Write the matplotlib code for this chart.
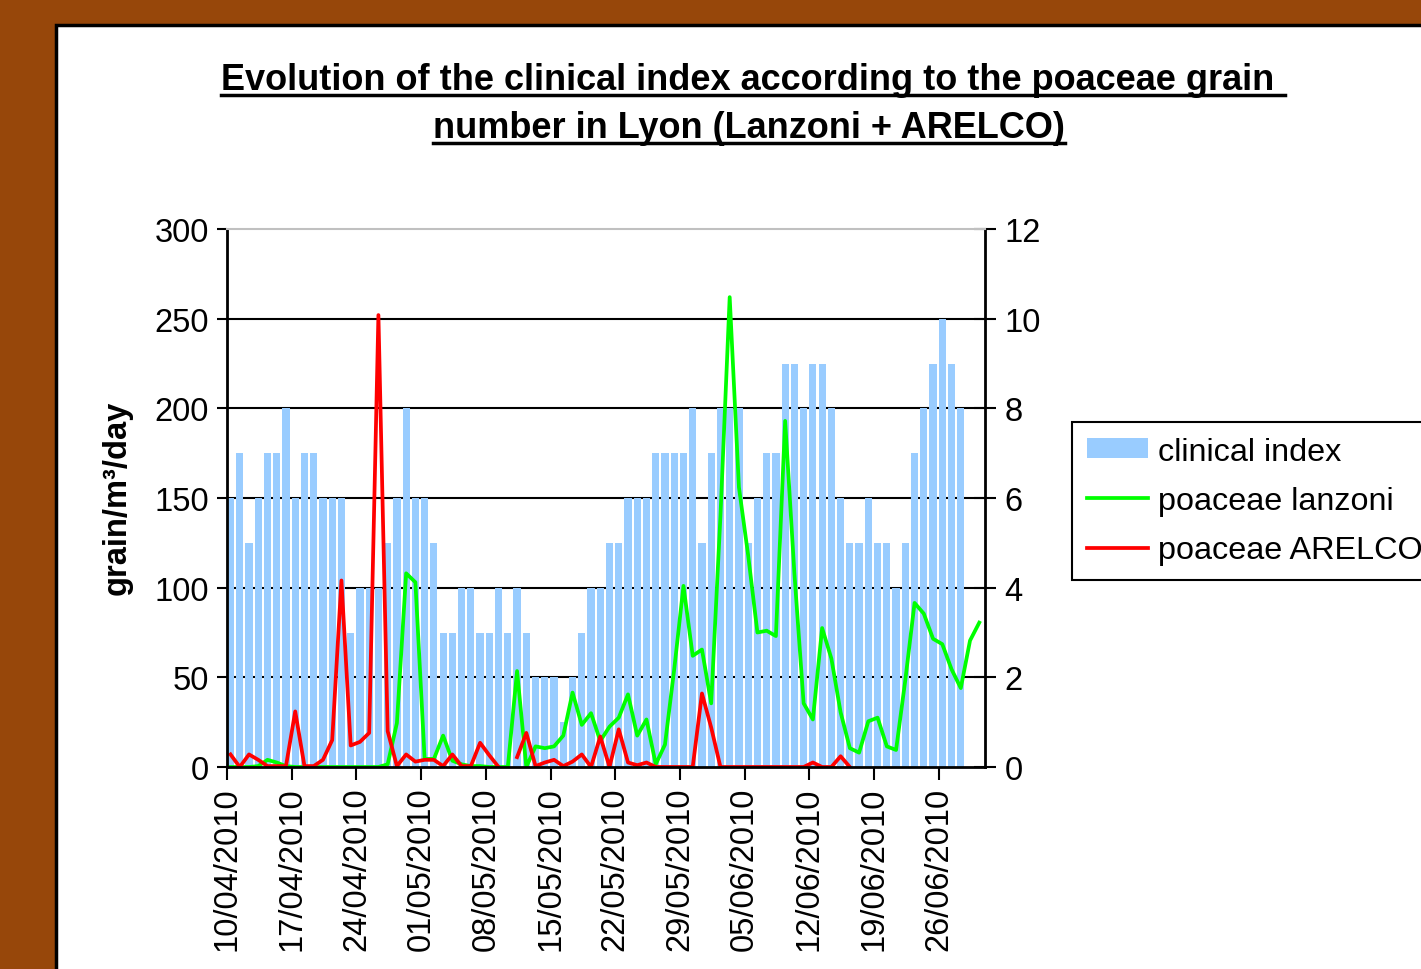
import matplotlib
matplotlib.use('Agg')
import matplotlib.pyplot as plt
import matplotlib.dates as mdates
from matplotlib.patches import Rectangle
from matplotlib.lines import Line2D
import numpy as np
import pandas as pd

plt.rcParams['font.family'] = ['Liberation Sans', 'DejaVu Sans']

# Données (un point par jour à partir du 10/04/2010)
start_date = '2010-04-10'
end_date = '2010-07-01'

clinical_index = [6, 7, 5, 6, 7, 7, 8, 6, 7, 7, 6, 6, 6, 3, 4, 4, 4, 5, 6, 8, 6,
                  6, 5, 3, 3, 4, 4, 3, 3, 4, 3, 4, 3, 2, 2, 2, 1, 2, 3, 4, 4,
                  5, 5, 6, 6, 6, 7, 7, 7, 7, 8, 5, 7, 8, 8, 8, 5, 6, 7, 7,
                  9, 9, 8, 9, 9, 8, 6, 5, 5, 6, 5, 5, 4, 5, 7, 8, 9, 10, 9, 8]

poaceae_lanzoni = [0, 0, 0, 0.5, 4, 2.5, 0.5, 0, 0, 0, 0, 0, 0, 0, 0, 0, 0, 1.5, 24.5, 108, 103,
                   4.5, 4.5, 17.5, 3.5, 1.5, 0.5, 0.5, 0, 0, 0, 53.5, 0, 11.5, 10.5, 11.5, 17.5, 41.5, 23.5, 30, 14.5,
                   22.5, 27.5, 40.5, 17.5, 26.5, 1.5, 12.5, 54.5, 101, 62, 65.5, 35.5, 140, 262, 156, 118, 75, 76, 73,
                   193, 108, 35.5, 26.5, 77.5, 60.5, 30.5, 10.5, 8, 25.5, 27.5, 11.5, 9.5, 48.5, 91.5, 85.5, 71.5,
                   68.5, 54.5, 44, 70.5, 80.5]

nan = np.nan
poaceae_arelco = [7, 0, 7, 4, 0.5, 0.5, 0.5, 31, 0.5, 0.5, 4, 15, 104, 12, 14, 19, 252, 20, 0.5, 7, 3,
                  4, 4, 0.5, 7, 0.5, 0.5, 13.5, 6.5, 0, nan, 5.5, 19, 0.5, 2.5, 4, 0.5, 3, 7, 0, 17,
                  0, 21, 2.5, 1, 2.5, 0, 0, 0, 0, 0, 41, 22, 0, 0, 0, 0, 0, 0, 0,
                  0, 0, 0, 2.5, 0, 0, 6, 0] + [nan] * 14

title_lines = ['Evolution of the clinical index according to the poaceae grain ',
               'number in Lyon (Lanzoni + ARELCO)']

W, H = 1421, 970
fig = plt.figure(figsize=(W / 100, H / 100), dpi=100)
fig.patch.set_facecolor('#97470A')

# panneau blanc
panel = Rectangle((56 / W, -0.1), 1.0, 1.1 - 26 / H, transform=fig.transFigure,
                  facecolor='white', edgecolor='black', linewidth=2.5, zorder=-5)
fig.patches.append(panel)

ax = fig.add_axes([227 / W, 1 - 768 / H, 758 / W, 538 / H])
ax2 = ax.twinx()
ax.set_zorder(ax2.get_zorder() + 1)
ax.patch.set_visible(False)

days = pd.date_range(start_date, periods=len(poaceae_lanzoni))
x = mdates.date2num(days) + 0.38

# barres (axe de droite)
for v in [2, 4, 6, 8, 10]:
    ax2.axhline(v, color='black', linewidth=1.5, zorder=0.5)
bars = ax2.bar(x[:len(clinical_index)], clinical_index, width=0.78,
               color='#99CCFF', zorder=1, label='clinical index')
ax2.set_ylim(0, 12)
ax2.set_yticks(range(0, 13, 2))

# courbes (axe de gauche)
l1, = ax.plot(x, poaceae_lanzoni, color='#00FF00', linewidth=2.7, label='poaceae lanzoni')
l2, = ax.plot(x, poaceae_arelco, color='#FF0000', linewidth=2.7, label='poaceae ARELCO')
ax.set_ylim(0, 300)
ax.set_yticks(range(0, 301, 50))
ax.set_xlim(mdates.date2num(pd.Timestamp(start_date)), mdates.date2num(pd.Timestamp(end_date)))

ticks = pd.date_range(start_date, end_date, freq='7D')
ax.set_xticks(mdates.date2num(ticks))
ax.xaxis.set_major_formatter(mdates.DateFormatter('%d/%m/%Y'))

for a in (ax, ax2):
    for s in a.spines.values():
        s.set_visible(False)
ax.spines['left'].set_visible(True)
ax.spines['left'].set_linewidth(2)
ax.spines['bottom'].set_visible(True)
ax.spines['bottom'].set_linewidth(2)
ax.spines['top'].set_visible(True)
ax.spines['top'].set_color('#C0C0C0')
ax.spines['top'].set_linewidth(1.5)
ax2.spines['right'].set_visible(True)
ax2.spines['right'].set_linewidth(2)

ax.tick_params(axis='y', direction='out', length=7, width=1.5, labelsize=23.5, pad=6)
ax.tick_params(axis='x', direction='out', length=9, width=1.5, labelsize=23.5,
               labelrotation=90, pad=5)
ax2.tick_params(axis='y', direction='inout', length=16, width=1.5, labelsize=23.5, pad=6)

fig.text(117 / W, 1 - 498 / H, 'grain/m³/day', rotation=90, ha='center', va='center',
         fontsize=23.5, fontweight='bold')

# titre souligné
t1 = fig.text(753 / W, 1 - 90 / H, title_lines[0], ha='center', va='baseline',
              fontsize=26, fontweight='bold')
t2 = fig.text(749 / W, 1 - 138 / H, title_lines[1], ha='center', va='baseline',
              fontsize=26, fontweight='bold')
fig.canvas.draw()
for t, ybase in ((t1, 90), (t2, 138)):
    bb = t.get_window_extent()
    yline = 1 - (ybase + 6) / H
    fig.lines.append(Line2D([bb.x0 / W, bb.x1 / W], [yline, yline], transform=fig.transFigure,
                            color='black', linewidth=2.5))

leg = fig.legend([bars, l1, l2], ['clinical index', 'poaceae lanzoni', 'poaceae ARELCO'],
                 loc='upper left', bbox_to_anchor=(1072 / W, 1 - 423 / H),
                 fontsize=23.3, handlelength=1.9, handleheight=0.6, handletextpad=0.3,
                 borderaxespad=0, borderpad=0.45, labelspacing=0.6,
                 fancybox=False, edgecolor='black', framealpha=1)
leg.get_frame().set_linewidth(1.5)

fig.savefig('out.png', dpi=100, facecolor=fig.get_facecolor())
